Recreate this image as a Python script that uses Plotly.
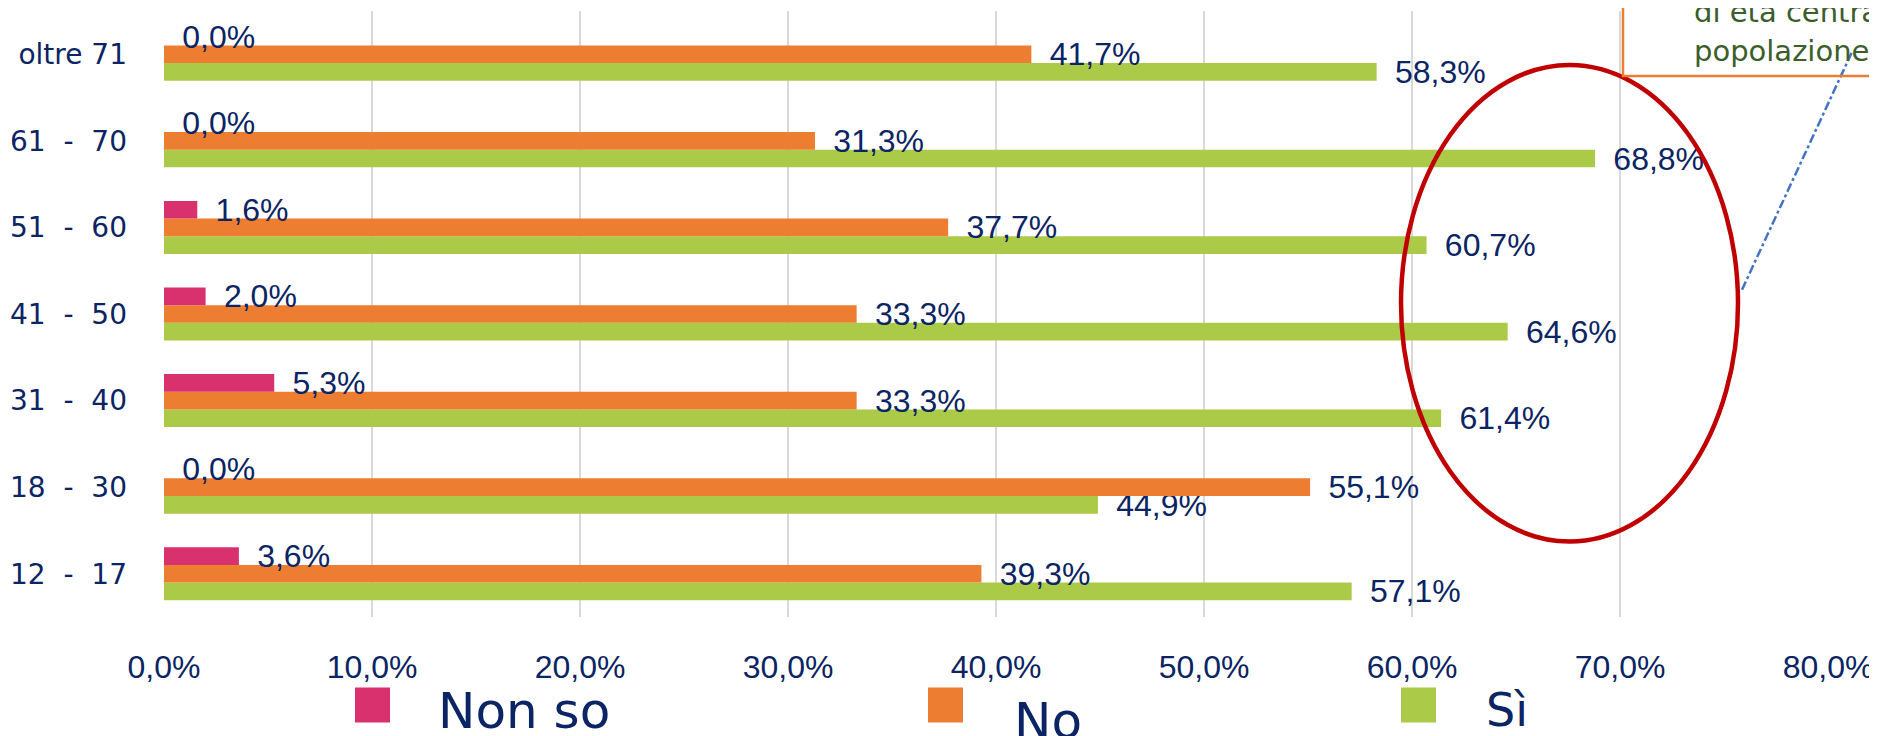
import plotly.graph_objects as go

# ---------------- data ----------------
categories = ["12  -  17", "18  -  30", "31  -  40", "41  -  50", "51  -  60", "61  -  70", "oltre 71"]
non_so = [3.6, 0.0, 5.3, 2.0, 1.6, 0.0, 0.0]
no = [39.3, 55.1, 33.3, 33.3, 37.7, 31.3, 41.7]
si = [57.1, 44.9, 61.4, 64.6, 60.7, 68.8, 58.3]
series_names = ["Sì", "No", "Non so"]
tick_values = [0, 10, 20, 30, 40, 50, 60, 70, 80]
tick_labels = ["0,0%", "10,0%", "20,0%", "30,0%", "40,0%", "50,0%", "60,0%", "70,0%", "80,0%"]
note_lines = ["di età centrale della", "popolazione"]

# ---------------- style ----------------
PAGE_OFF = 8                      # default body margin of the html page
W, H = 1877 - PAGE_OFF, 736 - PAGE_OFF
ML, MR, MT, MB = 164 - PAGE_OFF, 49, 11 - PAGE_OFF, 118.5
colors = {"Sì": "#ABCA48", "No": "#ED7D31", "Non so": "#D9306E"}
NAVY = "#0B2463"
COMIC = "Comic Sans MS, DejaVu Sans, sans-serif"
ARIAL = "Arial, Liberation Sans, sans-serif"

def px_x(px):
    """page pixel x -> paper x"""
    return (px - PAGE_OFF - ML) / (W - ML - MR)

def px_y(py):
    """page pixel y -> paper y"""
    return (H - MB - (py - PAGE_OFF)) / (H - MT - MB)

def fmt(v):
    return "\u00a0\u2009" + f"{v:.1f}".replace(".", ",") + "%"

values = {"Sì": si, "No": no, "Non so": non_so}

fig = go.Figure()
for name in series_names:
    vals = values[name]
    fig.add_trace(go.Bar(
        y=categories, x=vals, orientation="h", name=name,
        marker=dict(color=colors[name], line=dict(width=0)),
        text=[fmt(v) for v in vals], textposition="outside",
        textfont=dict(family=ARIAL, size=32, color=NAVY),
        constraintext="none", cliponaxis=False, showlegend=False,
    ))

fig.update_layout(
    width=W, height=H, barmode="group", bargap=0.388, bargroupgap=0,
    margin=dict(l=ML, r=MR, t=MT, b=MB, pad=0),
    plot_bgcolor="white", paper_bgcolor="white",
    showlegend=False,
)
fig.update_xaxes(
    range=[0, 80], tickvals=tick_values, ticktext=tick_labels,
    showgrid=True, gridcolor="#D9D9D9", gridwidth=1.5, zeroline=False,
    showline=False, ticks="", ticklabelstandoff=28, automargin=False,
    tickfont=dict(family=ARIAL, size=32, color=NAVY),
)
fig.update_yaxes(
    showgrid=False, zeroline=False, showline=False, ticks="",
    ticklabelstandoff=36, automargin=False,
    tickfont=dict(family=COMIC, size=28, color=NAVY),
)

# red ellipse highlighting the central age groups
fig.add_shape(type="circle", xref="paper", yref="paper",
              x0=px_x(1401), x1=px_x(1738), y0=px_y(542), y1=px_y(65),
              line=dict(color="#C00000", width=4.5), layer="above")
# dash-dot connector
fig.add_shape(type="line", xref="paper", yref="paper",
              x0=px_x(1742), y0=px_y(290), x1=px_x(1852), y1=px_y(52),
              line=dict(color="#4472C4", width=2.5, dash="dashdot"), layer="above")
# callout box (partly outside the picture)
fig.add_shape(type="rect", xref="paper", yref="paper",
              x0=px_x(1623), x1=px_x(2100), y0=px_y(76), y1=px_y(-60),
              line=dict(color="#ED7D31", width=2.5), fillcolor="rgba(0,0,0,0)", layer="above")
for i, line in enumerate(note_lines):
    fig.add_annotation(xref="paper", yref="paper", x=px_x(1692), y=px_y(12 + 39 * i),
                       text=line, showarrow=False, xanchor="left", yanchor="middle",
                       font=dict(family=COMIC, size=29, color="#3B5E2B"))

# legend drawn with squares and labels
legend_layout = {
    "Non so": dict(sq=355, tx=436, ty=712, size=50),
    "No": dict(sq=928, tx=1012, ty=722, size=50),
    "Sì": dict(sq=1401, tx=1484, ty=711, size=46),
}
for name in ["Non so", "No", "Sì"]:
    lg = legend_layout[name]
    fig.add_shape(type="rect", xref="paper", yref="paper",
                  x0=px_x(lg["sq"]), x1=px_x(lg["sq"] + 35), y0=px_y(723), y1=px_y(688),
                  line=dict(width=0), fillcolor=colors[name])
    fig.add_annotation(xref="paper", yref="paper", x=px_x(lg["tx"]), y=px_y(lg["ty"]),
                       text=name, showarrow=False, xanchor="left", yanchor="middle",
                       font=dict(family=COMIC, size=lg["size"], color=NAVY))

fig.write_html("out.html")
